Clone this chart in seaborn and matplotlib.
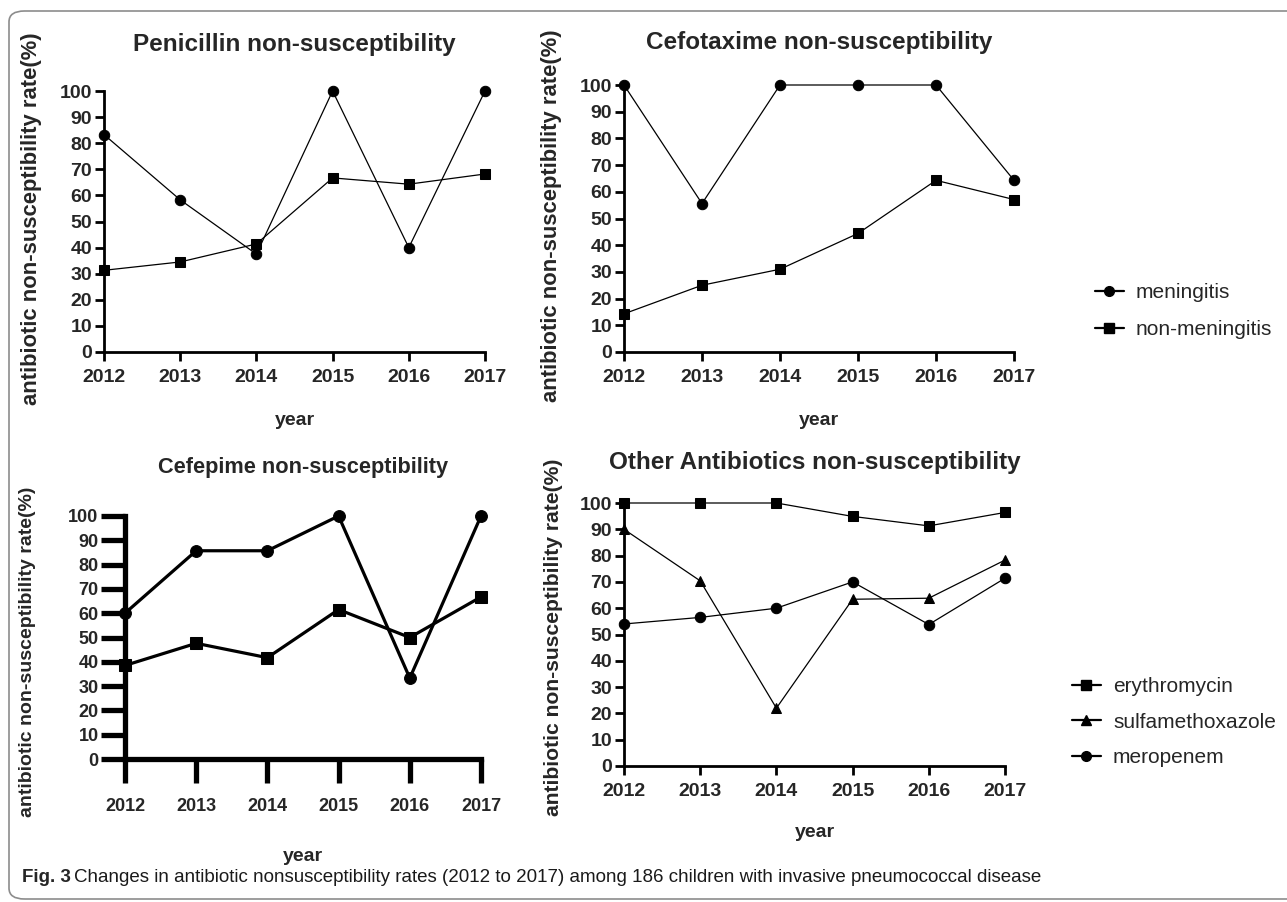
import matplotlib
matplotlib.use("Agg")
import matplotlib.pyplot as plt
from matplotlib.patches import FancyBboxPatch
from matplotlib.lines import Line2D
import seaborn as sns

# data
years = [2012, 2013, 2014, 2015, 2016, 2017]

pen_meningitis = [83.3, 58.3, 37.5, 100, 40.0, 100]
pen_non_meningitis = [31.3, 34.5, 41.4, 66.7, 64.3, 68.2]

cef_meningitis = [100, 55.6, 100, 100, 100, 64.3]
cef_non_meningitis = [14.3, 25.0, 31.0, 44.4, 64.3, 57.1]

fep_meningitis = [60.0, 85.7, 85.7, 100, 33.3, 100]
fep_non_meningitis = [38.5, 47.6, 41.7, 61.5, 50.0, 66.7]

erythromycin = [100, 100, 100, 94.9, 91.3, 96.4]
sulfamethoxazole = [90.0, 70.4, 22.0, 63.4, 63.8, 78.3]
meropenem = [54.0, 56.5, 60.0, 70.0, 53.8, 71.4]

yticks = list(range(0, 101, 10))

W, H = 1287, 902


def px_axes(fig, left, right, top, bottom):
    return fig.add_axes([left / W, 1 - bottom / H, (right - left) / W, (bottom - top) / H])


def draw_panel(ax, series, title, lw, ms, spine_w, tick_len, tick_w,
               title_fs, ylab_fs, tick_fs, title_y, ylab_x, ylab_y, xlab_y, xpad):
    for name, vals, mk, msz in series:
        sns.lineplot(x=years, y=vals, ax=ax, color="black", marker=mk,
                     markersize=msz * ms, markeredgecolor="black", linewidth=lw,
                     clip_on=False, zorder=4)
    if ax.get_legend() is not None:
        ax.get_legend().remove()
    ax.set_xlim(2012, 2017)
    ax.set_ylim(0, 100)
    ax.set_xticks(years)
    ax.set_yticks(yticks)
    sns.despine(ax=ax)
    for s in ["left", "bottom"]:
        ax.spines[s].set_linewidth(spine_w)
        ax.spines[s].set_color("black")
    ax.tick_params(axis="both", direction="out", length=tick_len, width=tick_w,
                   color="black", labelsize=tick_fs)
    ax.tick_params(axis="y", pad=2)
    ax.tick_params(axis="x", pad=xpad)
    for lab in ax.get_xticklabels() + ax.get_yticklabels():
        lab.set_fontweight("bold")
    ax.set_title(title, fontsize=title_fs, fontweight="bold", y=title_y, va="center")
    ax.set_ylabel("antibiotic non-susceptibility rate(%)", fontsize=ylab_fs, fontweight="bold")
    ax.set_xlabel("year", fontsize=14, fontweight="bold")
    ax.yaxis.set_label_coords(ylab_x, ylab_y)
    ax.xaxis.set_label_coords(0.5, xlab_y)
    ax.grid(False)


sns.set_theme(style="ticks")
plt.rcParams["font.family"] = ["Liberation Sans", "DejaVu Sans"]
plt.rcParams["axes.titlepad"] = 0

fig = plt.figure(figsize=(W / 100, H / 100), dpi=100)
fig.patch.set_facecolor("white")

# outer frame of the journal figure
frame = FancyBboxPatch((9 / W, 1 - 899 / H), 1300 / W, 888 / H,
                       boxstyle="round,pad=0,rounding_size=0.012",
                       transform=fig.transFigure, facecolor="none",
                       edgecolor="#8c8c8c", linewidth=1.2)
fig.patches.append(frame)

# top-left: penicillin
ax1 = px_axes(fig, 104, 485, 91, 352)
draw_panel(ax1, [("meningitis", pen_meningitis, "o", 1.0),
                 ("non-meningitis", pen_non_meningitis, "s", 1.05)],
           "Penicillin non-susceptibility", lw=0.9, ms=7.5, spine_w=2.0,
           tick_len=6.5, tick_w=2.0, title_fs=17.5, ylab_fs=15.8, tick_fs=14,
           title_y=(352 - 44) / 261, ylab_x=(42 - 104) / 381, ylab_y=0.51,
           xlab_y=(352 - 412) / 261, xpad=6)

# top-right: cefotaxime
ax2 = px_axes(fig, 624, 1014, 85, 352)
draw_panel(ax2, [("meningitis", cef_meningitis, "o", 1.0),
                 ("non-meningitis", cef_non_meningitis, "s", 1.05)],
           "Cefotaxime non-susceptibility", lw=0.9, ms=7.5, spine_w=2.0,
           tick_len=6.5, tick_w=2.0, title_fs=17.5, ylab_fs=15.8, tick_fs=14,
           title_y=(352 - 42) / 267, ylab_x=(562 - 624) / 390, ylab_y=0.51,
           xlab_y=(352 - 412) / 267, xpad=6)

# bottom-left: cefepime (thick style)
ax3 = px_axes(fig, 125, 481, 516, 759)
draw_panel(ax3, [("meningitis", fep_meningitis, "o", 1.0),
                 ("non-meningitis", fep_non_meningitis, "s", 1.0)],
           "Cefepime non-susceptibility", lw=2.3, ms=8.5, spine_w=3.8,
           tick_len=17, tick_w=3.8, title_fs=15.7, ylab_fs=14, tick_fs=13,
           title_y=(759 - 468) / 243, ylab_x=(36 - 125) / 356, ylab_y=(759 - 652) / 243,
           xlab_y=(759 - 848) / 243, xpad=11)

# bottom-right: other antibiotics
ax4 = px_axes(fig, 624, 1005, 503, 766)
draw_panel(ax4, [("erythromycin", erythromycin, "s", 1.05),
                 ("sulfamethoxazole", sulfamethoxazole, "^", 1.05),
                 ("meropenem", meropenem, "o", 1.0)],
           "Other Antibiotics non-susceptibility", lw=0.9, ms=7.5, spine_w=2.0,
           tick_len=6.5, tick_w=2.0, title_fs=17.5, ylab_fs=15.2, tick_fs=14,
           title_y=(766 - 462) / 263, ylab_x=(563 - 624) / 381, ylab_y=0.49,
           xlab_y=(766 - 824) / 263, xpad=6)

# legends
def handle(mk):
    return Line2D([0], [0], color="black", linewidth=1.6, marker=mk,
                  markersize=7, markeredgecolor="black")


leg1 = fig.legend([handle("o"), handle("s")], ["meningitis", "non-meningitis"],
                  loc="center left", bbox_to_anchor=(1085 / W, 1 - 311 / H),
                  frameon=False, fontsize=15, handlelength=1.35,
                  handletextpad=0.6, labelspacing=0.87, borderpad=0)
leg2 = fig.legend([handle("s"), handle("^"), handle("o")],
                  ["erythromycin", "sulfamethoxazole", "meropenem"],
                  loc="center left", bbox_to_anchor=(1062 / W, 1 - 722 / H),
                  frameon=False, fontsize=15, handlelength=1.35,
                  handletextpad=0.6, labelspacing=0.8, borderpad=0)

# caption
cap_font = ["Liberation Sans Narrow", "Liberation Sans", "DejaVu Sans"]
fig.text(22 / W, 1 - 878 / H, "Fig. 3", fontsize=13.5, fontweight="bold",
         family=cap_font, va="center", ha="left")
fig.text(74 / W, 1 - 878 / H,
         "Changes in antibiotic nonsusceptibility rates (2012 to 2017) among 186 children "
         "with invasive pneumococcal disease",
         fontsize=13.5, family=cap_font, va="center", ha="left", color="#1a1a1a")

fig.savefig("out.png", dpi=100)
